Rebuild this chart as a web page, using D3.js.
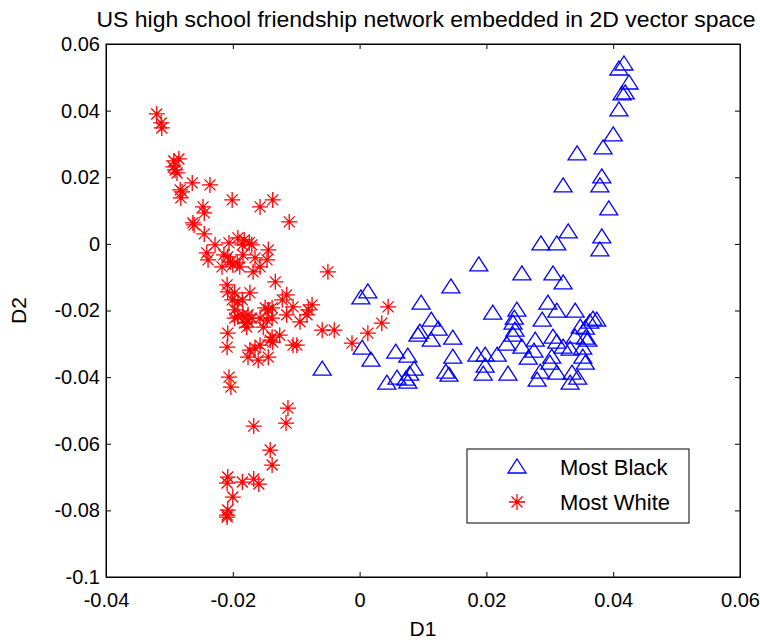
<!DOCTYPE html>
<html>
<head>
<meta charset="utf-8">
<script src="https://cdn.jsdelivr.net/npm/d3@7"></script>
<style>
  body { margin: 0; background: #fff; }
  text { font-family: "Liberation Sans", Arial, sans-serif; }
  .axis path, .axis line { stroke: #000; }
  .axis text { font-size: 20px; fill: #000; }
</style>
</head>
<body>
<div id="chart"></div>
<script>
// D1 / D2 coordinates
var blackD1 = [0.0417, 0.0409, 0.0425, 0.0419, 0.0414, 0.0409, 0.0400, 0.0384, 0.0343, 0.0382,
  0.0379, 0.0393, 0.0321, 0.0382, 0.0379, 0.0329, 0.0311, 0.0286, 0.0321, 0.0188,
  0.0256, 0.0305, 0.0297, 0.0210, 0.0248, 0.0311, 0.0340, 0.0288, 0.0244, 0.0242,
  0.0368, 0.0374, 0.0363, 0.0245, 0.0348, 0.0356, 0.0242, 0.0232, 0.0256, 0.0277,
  0.0305, 0.0311, 0.0321, 0.0332, 0.0340, 0.0356, 0.0360, 0.0352, 0.0275, 0.0266,
  0.0303, 0.0300, 0.0352, 0.0356, 0.0185, 0.0198, 0.0217, 0.0198, 0.0195, 0.0234,
  0.0285, 0.0280, 0.0311, 0.0335, 0.0332, 0.0344, 0.0013, 0.0002, 0.0144, 0.0097,
  0.0113, 0.0124, 0.0095, 0.0092, 0.0113, 0.0147, 0.0004, 0.0018, 0.0057, 0.0076,
  -0.0059, 0.0147, 0.0136, 0.0141, 0.0086, 0.0079, 0.0073, 0.0076, 0.0059, 0.0043];
var blackD2 = [0.0540, 0.0525, 0.0483, 0.0453, 0.0450, 0.0402, 0.0327, 0.0288, 0.0270, 0.0201,
  0.0174, 0.0105, 0.0174, 0.0021, -0.0018, 0.0036, 0.0000, 0.0000, -0.0117, -0.0063,
  -0.0090, -0.0090, -0.0178, -0.0208, -0.0199, -0.0202, -0.0202, -0.0229, -0.0223, -0.0238,
  -0.0226, -0.0229, -0.0235, -0.0259, -0.0250, -0.0253, -0.0274, -0.0301, -0.0310, -0.0289,
  -0.0280, -0.0295, -0.0310, -0.0316, -0.0280, -0.0283, -0.0289, -0.0313, -0.0322, -0.0343,
  -0.0340, -0.0358, -0.0340, -0.0358, -0.0334, -0.0334, -0.0334, -0.0367, -0.0391, -0.0391,
  -0.0385, -0.0409, -0.0388, -0.0388, -0.0418, -0.0403, -0.0144, -0.0162, -0.0129, -0.0178,
  -0.0229, -0.0256, -0.0265, -0.0274, -0.0289, -0.0283, -0.0313, -0.0349, -0.0325, -0.0337,
  -0.0376, -0.0340, -0.0385, -0.0394, -0.0376, -0.0391, -0.0406, -0.0415, -0.0403, -0.0418];

var whiteD1 = [-0.0320, -0.0313, -0.0312, -0.0285, -0.0293, -0.0294, -0.0291, -0.0288, -0.0264, -0.0236,
  -0.0283, -0.0280, -0.0282, -0.0201, -0.0157, -0.0137, -0.0247, -0.0245, -0.0111, -0.0263,
  -0.0261, -0.0245, -0.0228, -0.0206, -0.0192, -0.0182, -0.0174, -0.0170, -0.0241, -0.0239,
  -0.0214, -0.0208, -0.0204, -0.0200, -0.0193, -0.0184, -0.0165, -0.0144, -0.0146, -0.0157,
  -0.0168, -0.0050, -0.0133, -0.0209, -0.0189, -0.0217, -0.0185, -0.0208, -0.0197, -0.0173,
  -0.0201, -0.0192, -0.0185, -0.0197, -0.0192, -0.0184, -0.0176, -0.0170, -0.0176, -0.0197,
  -0.0181, -0.0178, -0.0157, -0.0149, -0.0144, -0.0138, -0.0146, -0.0138, -0.0152, -0.0122,
  -0.0115, -0.0105, -0.0115, -0.0094, -0.0081, -0.0075, -0.0083, -0.0059, -0.0040, -0.0208,
  -0.0138, -0.0126, -0.0141, -0.0137, -0.0105, -0.0099, -0.0157, -0.0173, -0.0165, -0.0209,
  -0.0176, -0.0144, -0.0160, -0.0012, 0.0013, 0.0035, 0.0045, -0.0206, -0.0203, -0.0113,
  -0.0116, -0.0167, -0.0141, -0.0138, -0.0208, -0.0209, -0.0185, -0.0167, -0.0159, -0.0200,
  -0.0208, -0.0209, -0.0209];
var whiteD2 = [0.0390, 0.0363, 0.0348, 0.0255, 0.0249, 0.0231, 0.0222, 0.0213, 0.0183, 0.0177,
  0.0162, 0.0156, 0.0138, 0.0132, 0.0111, 0.0132, 0.0111, 0.0093, 0.0066, 0.0063,
  0.0057, 0.0030, -0.0003, 0.0003, 0.0018, 0.0012, 0.0003, -0.0003, -0.0027, -0.0048,
  -0.0033, -0.0039, -0.0054, -0.0063, -0.0057, -0.0033, -0.0042, -0.0018, -0.0048, -0.0069,
  -0.0084, -0.0084, -0.0114, -0.0123, -0.0069, -0.0069, -0.0003, -0.0144, -0.0147, -0.0147,
  -0.0168, -0.0174, -0.0168, -0.0198, -0.0219, -0.0213, -0.0213, -0.0223, -0.0234, -0.0223,
  -0.0238, -0.0250, -0.0223, -0.0192, -0.0198, -0.0192, -0.0229, -0.0223, -0.0250, -0.0168,
  -0.0153, -0.0189, -0.0213, -0.0234, -0.0198, -0.0183, -0.0213, -0.0259, -0.0259, -0.0268,
  -0.0280, -0.0274, -0.0289, -0.0295, -0.0304, -0.0304, -0.0304, -0.0319, -0.0313, -0.0310,
  -0.0340, -0.0340, -0.0349, -0.0298, -0.0268, -0.0238, -0.0189, -0.0400, -0.0430, -0.0493,
  -0.0538, -0.0547, -0.0619, -0.0664, -0.0700, -0.0718, -0.0715, -0.0706, -0.0721, -0.0760,
  -0.0799, -0.0814, -0.0820];

var xTicks = [-0.04, -0.02, 0, 0.02, 0.04, 0.06];
var yTicks = [-0.1, -0.08, -0.06, -0.04, -0.02, 0, 0.02, 0.04, 0.06];
var seriesNames = ["Most Black", "Most White"];

var w = 760, h = 643;
var padL = 106, padR = 740, padT = 44, padB = 577;

var svg = d3.select("#chart").append("svg")
    .attr("width", w)
    .attr("height", h);

var xScale = d3.scaleLinear().domain([-0.04, 0.06]).range([padL, padR]);
var yScale = d3.scaleLinear().domain([-0.1, 0.06]).range([padB, padT]);

// plain hyphen minus like the original
var fmt = function(d) { return String(+d.toFixed(2)); };

// axes, ticks pointing inward like matlab
svg.append("g").attr("class", "axis")
    .attr("transform", "translate(0," + padB + ")")
    .call(d3.axisBottom(xScale).tickValues(xTicks).tickFormat(fmt)
        .tickSizeInner(-5).tickSizeOuter(0).tickPadding(16));
svg.append("g").attr("class", "axis")
    .attr("transform", "translate(0," + padT + ")")
    .call(d3.axisTop(xScale).tickValues(xTicks).tickFormat("")
        .tickSizeInner(-5).tickSizeOuter(0));
svg.append("g").attr("class", "axis")
    .attr("transform", "translate(" + padL + ",0)")
    .call(d3.axisLeft(yScale).tickValues(yTicks).tickFormat(fmt)
        .tickSizeInner(-5).tickSizeOuter(0).tickPadding(6));
svg.append("g").attr("class", "axis")
    .attr("transform", "translate(" + padR + ",0)")
    .call(d3.axisRight(yScale).tickValues(yTicks).tickFormat("")
        .tickSizeInner(-5).tickSizeOuter(0));

svg.append("rect")
    .attr("x", padL).attr("y", padT)
    .attr("width", padR - padL).attr("height", padB - padT)
    .attr("fill", "none").attr("stroke", "#000");

var triPath = "M0,-8L9,6L-9,6Z";
var starPath = "M-8,0H8M0,-8V8M-5.5,-5.5L5.5,5.5M-5.5,5.5L5.5,-5.5";

var black = blackD1.map(function(d, i) { return [d, blackD2[i]]; });
var white = whiteD1.map(function(d, i) { return [d, whiteD2[i]]; });

svg.append("g").selectAll("path")
    .data(black).enter().append("path")
    .attr("d", triPath)
    .attr("transform", function(d) { return "translate(" + xScale(d[0]) + "," + yScale(d[1]) + ")"; })
    .attr("fill", "none").attr("stroke", "#0000ff").attr("stroke-width", 1.3);

svg.append("g").selectAll("path")
    .data(white).enter().append("path")
    .attr("d", starPath)
    .attr("transform", function(d) { return "translate(" + xScale(d[0]) + "," + yScale(d[1]) + ")"; })
    .attr("fill", "none").attr("stroke", "#ff0000").attr("stroke-width", 1.3);

// title and labels
svg.append("text")
    .attr("x", (padL + padR) / 2 + 3).attr("y", 27)
    .attr("text-anchor", "middle")
    .attr("font-size", 22)
    .attr("textLength", 659).attr("lengthAdjust", "spacingAndGlyphs")
    .text("US high school friendship network embedded in 2D vector space");

svg.append("text")
    .attr("x", (padL + padR) / 2).attr("y", 636)
    .attr("text-anchor", "middle")
    .attr("font-size", 21)
    .text("D1");

svg.append("text")
    .attr("transform", "translate(26," + ((padT + padB) / 2) + ") rotate(-90)")
    .attr("text-anchor", "middle")
    .attr("font-size", 21)
    .text("D2");

// legend
var legend = svg.append("g");
legend.append("rect")
    .attr("x", 467).attr("y", 449).attr("width", 222).attr("height", 74)
    .attr("fill", "#fff").attr("stroke", "#000");
var legRows = legend.selectAll("g.row")
    .data(seriesNames).enter().append("g").attr("class", "row")
    .attr("transform", function(d, i) { return "translate(517," + (467 + i * 35) + ")"; });
legRows.append("path")
    .attr("d", function(d, i) { return i == 0 ? triPath : starPath; })
    .attr("fill", "none")
    .attr("stroke", function(d, i) { return i == 0 ? "#0000ff" : "#ff0000"; })
    .attr("stroke-width", 1.3);
legRows.append("text")
    .attr("x", 43).attr("y", 8)
    .attr("font-size", 22)
    .text(function(d) { return d; });
</script>
</body>
</html>
